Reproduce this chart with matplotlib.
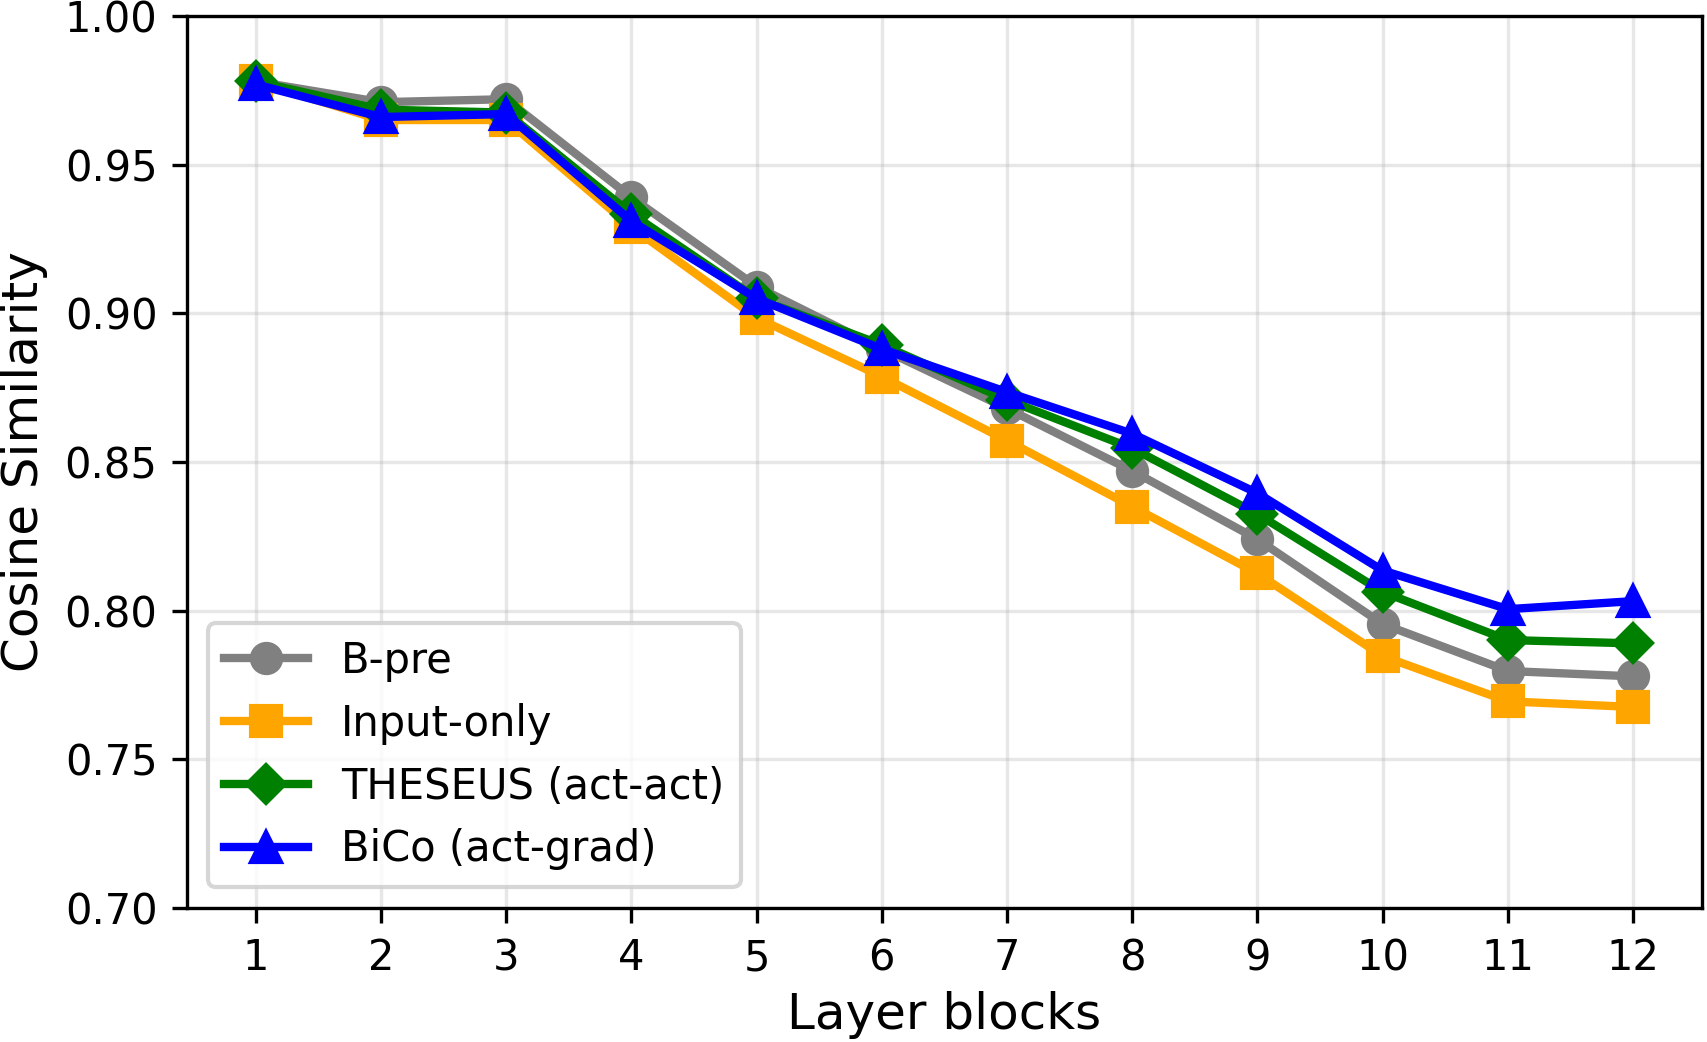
import matplotlib
matplotlib.use("Agg")
import matplotlib.pyplot as plt

layers = [1, 2, 3, 4, 5, 6, 7, 8, 9, 10, 11, 12]
b_pre = [0.978, 0.971, 0.972, 0.939, 0.909, 0.888, 0.868, 0.847, 0.824, 0.7955, 0.7797, 0.7779]
input_only = [0.978, 0.965, 0.965, 0.929, 0.8985, 0.8787, 0.8572, 0.835, 0.8125, 0.7847, 0.7695, 0.7676]
theseus = [0.978, 0.9685, 0.9675, 0.9335, 0.905, 0.8894, 0.8709, 0.8546, 0.8325, 0.8063, 0.7901, 0.789]
bico = [0.977, 0.966, 0.967, 0.931, 0.905, 0.888, 0.8735, 0.8595, 0.8395, 0.8135, 0.8005, 0.8032]

labels = ["B-pre", "Input-only", "THESEUS (act-act)", "BiCo (act-grad)"]

fig = plt.figure(figsize=(1707 / 300, 1042 / 300), dpi=300)
ax = fig.add_axes([0.1094, 0.1286, 0.8877, 0.8561])

ax.plot(layers, b_pre, color="gray", marker="o", lw=2, ms=7, label=labels[0])
ax.plot(layers, input_only, color="orange", marker="s", lw=2, ms=7, label=labels[1])
ax.plot(layers, theseus, color="green", marker="D", lw=2, ms=6.5, label=labels[2])
ax.plot(layers, bico, color="blue", marker="^", lw=2, ms=7, label=labels[3])

ax.set_ylim(0.70, 1.00)
ax.set_xticks(layers)
ax.set_yticks([0.70, 0.75, 0.80, 0.85, 0.90, 0.95, 1.00])
ax.tick_params(labelsize=10)
ax.grid(True, alpha=0.3)
ax.set_xlabel("Layer blocks", fontsize=12, labelpad=2.8)
ax.set_ylabel("Cosine Similarity", fontsize=12)
ax.legend(loc="lower left", fontsize=10)

fig.savefig("out.png", dpi=300)
